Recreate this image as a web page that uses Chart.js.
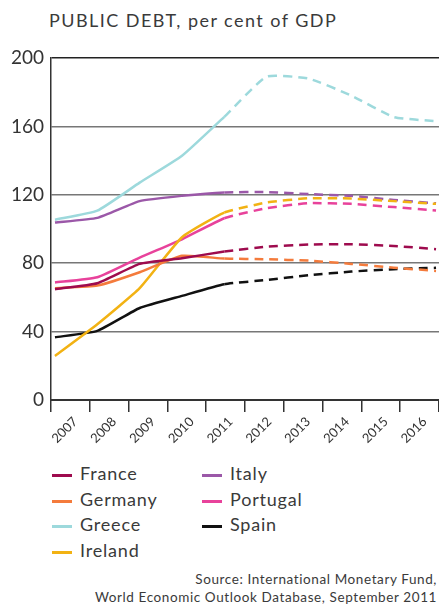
<!DOCTYPE html>
<html>
<head>
<meta charset="utf-8">
<script src="https://cdn.jsdelivr.net/npm/chart.js@4"></script>
<style>
  body { margin: 0; background: #fff; font-family: Lato, "Open Sans", sans-serif; color: #333; }
  #wrap { position: relative; width: 439px; height: 606px; overflow: hidden; }
  #chart { position: absolute; left: 0; top: 0; }
  #title { position: absolute; left: 49px; top: 9px; font-size: 18px; letter-spacing: 1.45px; white-space: nowrap; color: #3a3a3a; }
  #legend { position: absolute; left: 52px; top: 461px; display: grid; grid-auto-flow: column;
            grid-template-columns: 150px 150px; grid-template-rows: repeat(4, 25.7px); }
  #legend div { font-size: 18px; line-height: 25.7px; white-space: nowrap; letter-spacing: 0.8px; color: #3a3a3a; }
  #legend span { display: inline-block; width: 20px; height: 3px; margin-right: 8px; vertical-align: middle; }
  #source { position: absolute; right: 2px; top: 570px; text-align: right; font-size: 13.5px;
            line-height: 18px; letter-spacing: 0.6px; white-space: nowrap; color: #3a3a3a; }
</style>
</head>
<body>
<div id="wrap">
  <div id="title">PUBLIC DEBT, per cent of GDP</div>
  <canvas id="chart" width="439" height="460"></canvas>
  <div id="legend"></div>
  <div id="source">Source: International Monetary Fund,<br>World Economic Outlook Database, September 2011</div>
</div>
<script>
// years on the axis; projections start at 2011
const years = [2007, 2008, 2009, 2010, 2011, 2012, 2013, 2014, 2015, 2016];
const forecastFrom = 4;

const yTicks = [0, 40, 80, 120, 160, 200];

const france   = [64.8, 68.3, 79.6, 82.9, 86.8, 89.7, 90.9, 91.1, 90.1, 88.2];
const germany  = [65.4, 66.9, 74.7, 84.3, 82.7, 82.3, 81.5, 79.6, 77.4, 75.5];
const greece   = [105.4, 110.7, 127.1, 142.8, 165.6, 189.1, 187.9, 178.0, 165.5, 163.0];
const ireland  = [25.8, 44.3, 65.4, 95.2, 109.6, 115.5, 118.0, 117.8, 116.3, 114.7];
const italy    = [103.8, 106.5, 116.3, 119.4, 121.4, 121.6, 120.4, 119.4, 117.0, 115.0];
const portugal = [68.7, 71.8, 83.3, 94.0, 106.3, 112.2, 115.1, 114.7, 112.8, 110.8];
const spain    = [36.7, 40.4, 53.8, 60.9, 67.7, 70.2, 73.0, 75.1, 76.5, 77.3];

const countries = ["France", "Germany", "Greece", "Ireland", "Italy", "Portugal", "Spain"];
const series = [france, germany, greece, ireland, italy, portugal, spain];
const colors = ["#9e0b4e", "#f47b3c", "#9dd9dc", "#f2b213", "#9b58a8", "#e8429b", "#111111"];

const datasets = countries.map((name, i) => ({
  label: name,
  data: series[i],
  borderColor: colors[i],
  backgroundColor: colors[i],
  borderWidth: 2.5,
  pointRadius: 0,
  tension: 0.15,
  fill: false,
  segment: {
    borderDash: ctx => ctx.p0DataIndex >= forecastFrom ? [9, 6] : undefined
  }
}));

new Chart(document.getElementById("chart"), {
  type: "line",
  data: { labels: years, datasets: datasets },
  options: {
    responsive: false,
    animation: false,
    layout: { padding: { top: 58, left: 0, right: 0, bottom: 0 } },
    plugins: { legend: { display: false }, tooltip: { enabled: false } },
    scales: {
      // data are placed on a linear year axis, labels come from the category axis below
      x: {
        type: "linear",
        display: false,
        min: 2006.906,
        max: 2016.07
      },
      years: {
        type: "category",
        position: "bottom",
        offset: true,
        afterFit: s => { s.height = 60; },
        grid: { offset: true, drawOnChartArea: false, drawTicks: true, tickLength: 12, color: "#333", lineWidth: 1.5 },
        border: { display: true, color: "#333", width: 2 },
        ticks: {
          color: "#333",
          font: { family: "Lato", size: 13 },
          minRotation: 45,
          maxRotation: 45,
          labelOffset: 5,
          padding: 2
        }
      },
      y: {
        min: 0,
        max: 200,
        afterBuildTicks: s => { s.ticks = yTicks.map(v => ({ value: v })); },
        afterFit: s => { s.width = 51; },
        grid: {
          drawTicks: false,
          color: ctx => ctx.tick.value === 200 ? "#222" : "#777",
          lineWidth: 1.5
        },
        border: { display: true, color: "#333", width: 1.5 },
        ticks: { color: "#333", font: { family: "Lato", size: 19 }, padding: 7 }
      }
    }
  }
});

// legend in two columns, built from the datasets
const legend = document.getElementById("legend");
datasets.forEach(d => {
  const item = document.createElement("div");
  const sw = document.createElement("span");
  sw.style.background = d.borderColor;
  item.appendChild(sw);
  item.appendChild(document.createTextNode(d.label));
  legend.appendChild(item);
});
</script>
</body>
</html>
